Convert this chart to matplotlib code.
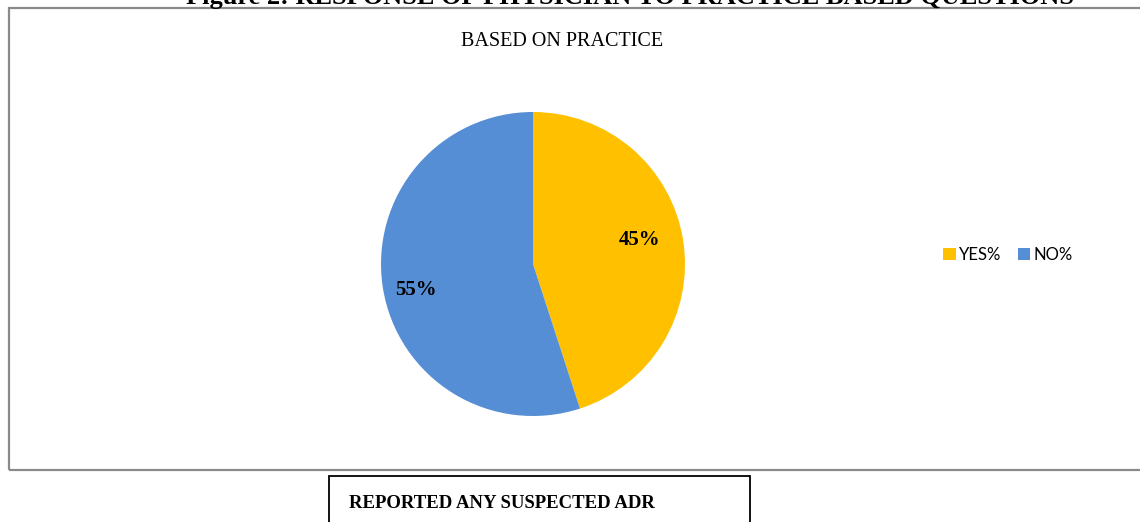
import matplotlib
matplotlib.use("Agg")
import matplotlib.pyplot as plt
from matplotlib.patches import Rectangle

categories = ["YES%", "NO%"]
values = [45, 55]
colors = ["#FFC000", "#558ED5"]
chart_title = "BASED ON PRACTICE"
figure_caption = "Figure 2: RESPONSE OF PHYSICIAN TO PRACTICE BASED QUESTIONS"
next_heading = "REPORTED ANY SUSPECTED ADR"

W, H = 1140, 522
fig = plt.figure(figsize=(W / 100, H / 100), dpi=100)
fig.patch.set_facecolor("white")

def fx(px):
    return px / W

def fy(py):
    return 1 - py / H

# outer chart frame (gray)
fig.patches.append(Rectangle((fx(8.5), fy(470)), fx(1160) - fx(8.5), fy(7.5) - fy(470),
                             transform=fig.transFigure, fill=False,
                             edgecolor="#8a8a8a", linewidth=1.6, zorder=1))
# box below (black)
fig.patches.append(Rectangle((fx(328.5), fy(540)), fx(750) - fx(328.5), fy(475.5) - fy(540),
                             transform=fig.transFigure, fill=False,
                             edgecolor="black", linewidth=1.3, zorder=1))

# caption cut off at the top, as in the reference
fig.text(fx(630), fy(4), figure_caption, ha="center", va="baseline",
         fontsize=19, fontweight="bold", family="Liberation Serif")

# chart title
fig.text(fx(562), fy(46), chart_title, ha="center", va="baseline",
         fontsize=14.5, family="Liberation Serif")

# heading in the box below
fig.text(fx(349), fy(508), next_heading, ha="left", va="baseline",
         fontsize=13.5, fontweight="bold", family="Liberation Serif")

# pie
cx, cy, r = 533, 264, 152
ax = fig.add_axes([fx(cx - r), fy(cy + r), (2 * r) / W, (2 * r) / H])
wedges, texts, autotexts = ax.pie(values, colors=colors, startangle=90, counterclock=False,
                                  autopct="%d%%", pctdistance=0.72, radius=1,
                                  wedgeprops=dict(linewidth=0),
                                  textprops=dict(fontsize=15, fontweight="bold",
                                                 family="Liberation Serif", color="black"))
ax.set_xlim(-1, 1)
ax.set_ylim(-1, 1)
ax.set_aspect("auto")
ax.axis("off")
# nudge labels to match Excel placement
autotexts[0].set_position((0.70, 0.16))
autotexts[1].set_position((-0.77, -0.17))

leg = fig.legend(wedges, categories, loc="center", bbox_to_anchor=(fx(1008), fy(255)),
                 ncol=2, frameon=False, handlelength=0.75, handleheight=0.75,
                 handletextpad=0.2, columnspacing=1.0,
                 prop=dict(family="Lato", size=12))

fig.savefig("out.png", dpi=100, facecolor="white")
